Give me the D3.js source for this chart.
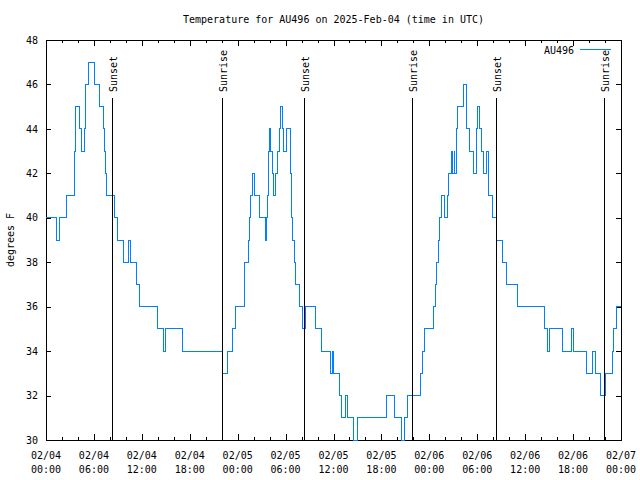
<!DOCTYPE html>
<html><head><meta charset="utf-8">
<script src="https://cdn.jsdelivr.net/npm/d3@7"></script>
<style>body{margin:0;background:#fff}svg{display:block}text{font-family:"DejaVu Sans Mono",monospace;font-size:10px;fill:#000}</style>
</head><body><svg id="c" width="640" height="480"></svg>
<script>
const title = "Temperature for AU496 on 2025-Feb-04 (time in UTC)";
const seriesName = "AU496";
const yLabel = "degrees F";
const times = [
"2025-02-04 00:00","2025-02-04 01:18","2025-02-04 01:40","2025-02-04 02:36","2025-02-04 03:33","2025-02-04 03:42",
"2025-02-04 04:10","2025-02-04 04:27","2025-02-04 04:51","2025-02-04 04:55","2025-02-04 05:21","2025-02-04 06:03",
"2025-02-04 06:42","2025-02-04 07:12","2025-02-04 07:18","2025-02-04 07:27","2025-02-04 07:36","2025-02-04 08:33",
"2025-02-04 09:00","2025-02-04 09:39","2025-02-04 10:21","2025-02-04 10:36","2025-02-04 11:21","2025-02-04 11:39",
"2025-02-04 13:54","2025-02-04 14:42","2025-02-04 14:57","2025-02-04 17:09","2025-02-04 22:06","2025-02-04 22:42",
"2025-02-04 23:18","2025-02-04 23:42",
"2025-02-05 00:54","2025-02-05 01:18","2025-02-05 01:27","2025-02-05 01:36","2025-02-05 01:51","2025-02-05 02:09",
"2025-02-05 02:42","2025-02-05 03:27","2025-02-05 03:36","2025-02-05 03:45","2025-02-05 03:51","2025-02-05 04:00",
"2025-02-05 04:09","2025-02-05 04:18","2025-02-05 04:27","2025-02-05 04:42","2025-02-05 05:03","2025-02-05 05:12",
"2025-02-05 05:24","2025-02-05 05:36","2025-02-05 05:45","2025-02-05 06:09","2025-02-05 06:36","2025-02-05 06:42",
"2025-02-05 06:48","2025-02-05 06:54","2025-02-05 07:06","2025-02-05 07:18","2025-02-05 07:48","2025-02-05 08:09",
"2025-02-05 08:30","2025-02-05 09:42","2025-02-05 10:30","2025-02-05 11:39","2025-02-05 11:51","2025-02-05 11:57",
"2025-02-05 12:48","2025-02-05 12:57","2025-02-05 13:33","2025-02-05 13:48","2025-02-05 14:27","2025-02-05 14:57",
"2025-02-05 18:39","2025-02-05 19:36","2025-02-05 20:33","2025-02-05 20:57","2025-02-05 21:15","2025-02-05 22:57",
"2025-02-05 23:06","2025-02-05 23:21",
"2025-02-06 00:33","2025-02-06 00:45","2025-02-06 00:54","2025-02-06 01:06","2025-02-06 01:18","2025-02-06 01:33",
"2025-02-06 01:51","2025-02-06 02:15","2025-02-06 02:27","2025-02-06 02:48","2025-02-06 02:57","2025-02-06 03:06",
"2025-02-06 03:12","2025-02-06 03:21","2025-02-06 03:30","2025-02-06 04:18","2025-02-06 04:36","2025-02-06 04:42",
"2025-02-06 05:03","2025-02-06 05:33","2025-02-06 05:51","2025-02-06 06:00","2025-02-06 06:18","2025-02-06 06:30",
"2025-02-06 06:48","2025-02-06 07:09","2025-02-06 07:21","2025-02-06 07:54","2025-02-06 08:21","2025-02-06 09:06",
"2025-02-06 09:39","2025-02-06 11:06","2025-02-06 14:24","2025-02-06 14:51","2025-02-06 15:00","2025-02-06 16:39",
"2025-02-06 17:51","2025-02-06 18:06","2025-02-06 19:39","2025-02-06 20:24","2025-02-06 20:48","2025-02-06 21:24",
"2025-02-06 22:06","2025-02-06 22:54","2025-02-06 23:06","2025-02-06 23:27","2025-02-07 00:00"];
const temps = [
40,39,40,41,43,45,44,43,44,46,47,46,45,44,43,42,41,40,39,38,39,38,37,36,35,34,35,34,33,34,35,36,
38,39,40,41,42,41,40,39,40,41,43,44,43,42,41,42,43,44,45,44,43,44,42,41,40,39,38,37,36,35,36,35,34,33,34,33,
32,31,32,31,30,31,32,31,30,31,32,33,34,35,
36,37,38,39,40,41,40,41,42,43,42,43,42,44,45,46,45,44,43,42,44,45,44,43,42,43,41,40,39,38,37,36,35,34,35,34,
35,34,33,34,33,32,33,34,35,36,36];
const eventTimes = ["2025-02-04 08:18","2025-02-04 22:00","2025-02-05 08:20","2025-02-05 21:52","2025-02-06 08:23","2025-02-06 21:55"];
const eventLabels = ["Sunset","Sunrise","Sunset","Sunrise","Sunset","Sunrise"];
const yTicks = [30,32,34,36,38,40,42,44,46,48];

const parse = d3.utcParse("%Y-%m-%d %H:%M");
const data = times.map((t,i)=>({t:parse(t), v:temps[i]}));
const L=46,R=621,T=40,B=440;
const x = d3.scaleUtc().domain([parse("2025-02-04 00:00"), parse("2025-02-07 00:00")]).range([L,R]);
const y = d3.scaleLinear().domain([30,48]).range([B,T]);
const svg = d3.select("#c");

svg.append("text").attr("x",(L+R)/2).attr("y",23).attr("text-anchor","middle").text(title);

const g = svg.append("g").attr("shape-rendering","crispEdges");
g.append("rect").attr("x",L).attr("y",T).attr("width",R-L).attr("height",B-T).attr("fill","none").attr("stroke","#000");

const yAx = d3.axisLeft(y).tickValues(yTicks).tickSizeInner(-5).tickSizeOuter(0).tickPadding(8);
const ya = svg.append("g").attr("transform",`translate(${L},0)`).call(yAx);
ya.select(".domain").remove();
ya.selectAll("text").attr("font-family","DejaVu Sans Mono").attr("font-size",10);
ya.selectAll("line").attr("shape-rendering","crispEdges");
const yr = svg.append("g").attr("transform",`translate(${R},0)`).call(d3.axisRight(y).tickValues(yTicks).tickSizeInner(-5).tickSizeOuter(0).tickFormat(""));
yr.select(".domain").remove();
yr.selectAll("line").attr("shape-rendering","crispEdges");

const majors = d3.utcHour.every(6).range(x.domain()[0], d3.utcHour.offset(x.domain()[1],1));
const minors = d3.utcHour.every(2).range(x.domain()[0], x.domain()[1]).filter(d=>d.getUTCHours()%6!==0);
const fmt1 = d3.utcFormat("%m/%d"), fmt2 = d3.utcFormat("%H:%M");
function xTicks(vals,size){
  const b = svg.append("g").call(d3.axisBottom(x).tickValues(vals).tickSizeInner(-size).tickSizeOuter(0).tickFormat(""))
    .attr("transform",`translate(0,${B})`);
  b.select(".domain").remove(); b.selectAll("line").attr("shape-rendering","crispEdges");
  const t = svg.append("g").call(d3.axisTop(x).tickValues(vals).tickSizeInner(-size).tickSizeOuter(0).tickFormat(""))
    .attr("transform",`translate(0,${T})`);
  t.select(".domain").remove(); t.selectAll("line").attr("shape-rendering","crispEdges");
}
xTicks(majors,6); xTicks(minors,3);
const lbl = svg.append("g");
majors.forEach(d=>{
  lbl.append("text").attr("x",x(d)).attr("y",459).attr("text-anchor","middle").text(fmt1(d));
  lbl.append("text").attr("x",x(d)).attr("y",473).attr("text-anchor","middle").text(fmt2(d));
});

svg.append("text").attr("transform","translate(14,240) rotate(-90)").attr("text-anchor","middle").text(yLabel);

const line = d3.line().x(d=>x(d.t)).y(d=>y(d.v)).curve(d3.curveStepAfter);
svg.append("path").datum(data).attr("d",line).attr("fill","none").attr("stroke","#0080ff").attr("stroke-width",1).attr("shape-rendering","crispEdges");

eventTimes.forEach((t,i)=>{
  const xx = Math.round(x(parse(t)))+0.5;
  svg.append("line").attr("x1",xx).attr("x2",xx).attr("y1",98).attr("y2",B).attr("stroke","#000").attr("shape-rendering","crispEdges");
  svg.append("text").attr("transform",`translate(${xx+4},92) rotate(-90)`).attr("text-anchor","start").text(eventLabels[i]);
});

svg.append("text").attr("x",574).attr("y",54).attr("text-anchor","end").text(seriesName);
svg.append("line").attr("x1",580).attr("x2",611).attr("y1",49.5).attr("y2",49.5).attr("stroke","#0080ff").attr("shape-rendering","crispEdges");
</script></body></html>
